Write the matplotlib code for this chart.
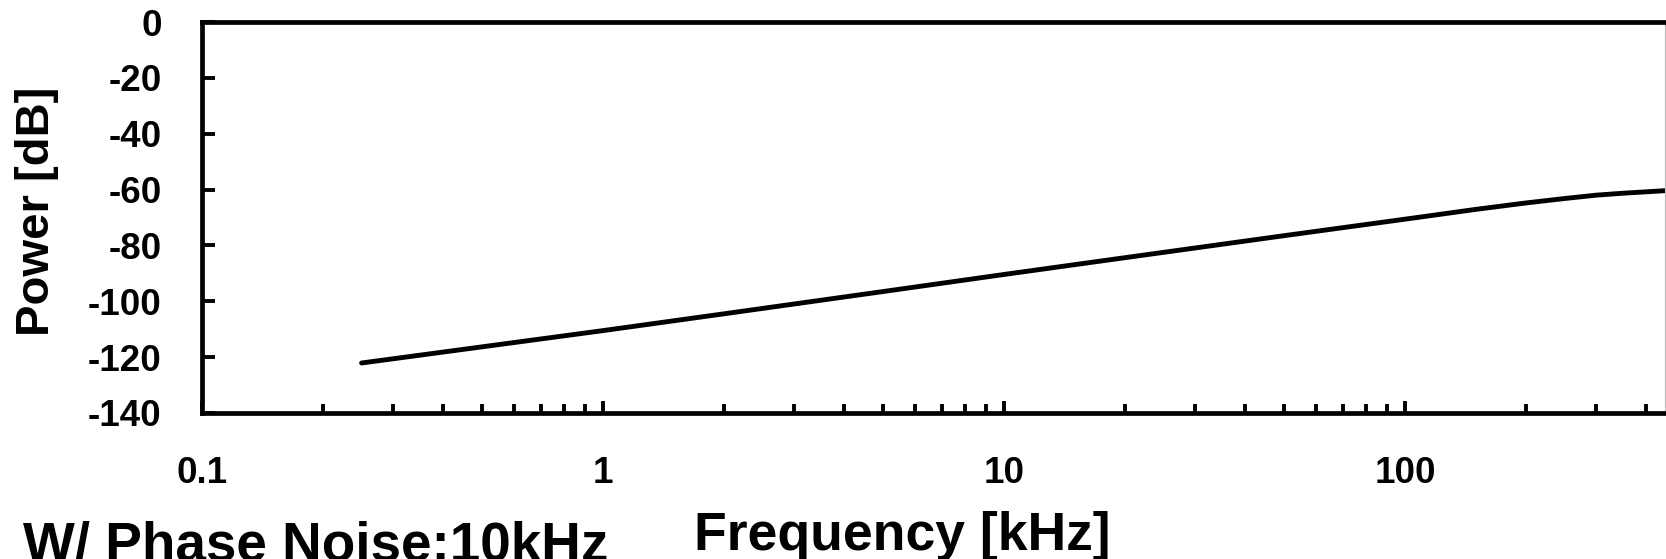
import matplotlib
matplotlib.use("Agg")
import matplotlib.pyplot as plt
import numpy as np
from matplotlib.ticker import LogLocator, NullFormatter

# values
freq_khz = [0.25, 0.5, 1, 2, 5, 10, 20, 50, 100, 150, 200, 250, 300, 350, 400, 445]
power_db = [-122.1, -116.3, -110.5, -104.5, -96.5, -90.4, -84.4, -76.5,
            -70.6, -67.1, -64.8, -63.2, -62.0, -61.3, -60.8, -60.4]

x_ticks = [0.1, 1, 10, 100]
x_tick_labels = ["0.1", "1", "10", "100"]
y_ticks = [0, -20, -40, -60, -80, -100, -120, -140]

W, H = 1666, 559
fig = plt.figure(figsize=(W / 100, H / 100), dpi=100)

# axes box in pixels: left 202, right 1665, top 22, bottom 413
ax = fig.add_axes([202 / W, 1 - 413 / H, (1665 - 202) / W, (413 - 22) / H])
ax.plot(freq_khz, power_db, color="black", lw=3.5, solid_capstyle="round")

ax.set_xscale("log")
ax.set_xlim(0.1, 445)
ax.set_ylim(-140, 0)

ax.set_xticks(x_ticks)
ax.set_xticklabels(x_tick_labels)
ax.xaxis.set_minor_locator(LogLocator(base=10, subs=np.arange(2, 10)))
ax.xaxis.set_minor_formatter(NullFormatter())
ax.set_yticks(y_ticks)
ax.set_yticklabels([str(v) for v in y_ticks])

for s in ["left", "top", "bottom"]:
    ax.spines[s].set_linewidth(3.4)
    ax.spines[s].set_color("black")
ax.spines["right"].set_linewidth(0.8)
ax.spines["right"].set_color("#bdbdbd")

ax.tick_params(axis="x", which="major", direction="in", length=9, width=2.8,
               pad=31, labelsize=26.5)
ax.tick_params(axis="x", which="minor", direction="in", length=6.4, width=2.8)
ax.tick_params(axis="y", which="major", direction="in", length=9.4, width=2.8,
               pad=29, labelsize=26.5)
for lab in ax.get_xticklabels() + ax.get_yticklabels():
    lab.set_fontweight("bold")
    lab.set_family("Liberation Sans")

# labels placed by pixel position, like the reference (cropped at bottom)
fig.text(37 / W, 1 - 211 / H, "Power [dB]", rotation=90, ha="center", va="center",
         fontsize=34, fontweight="bold", family="Liberation Sans")
fig.text(902 / W, 1 - 550 / H, "Frequency [kHz]", ha="center", va="baseline",
         fontsize=38.5, fontweight="bold", family="Liberation Sans")
fig.text(23 / W, 1 - 560 / H, "W/ Phase Noise:10kHz", ha="left", va="baseline",
         fontsize=39.5, fontweight="bold", family="Liberation Sans")

fig.savefig("out.png", dpi=100)
